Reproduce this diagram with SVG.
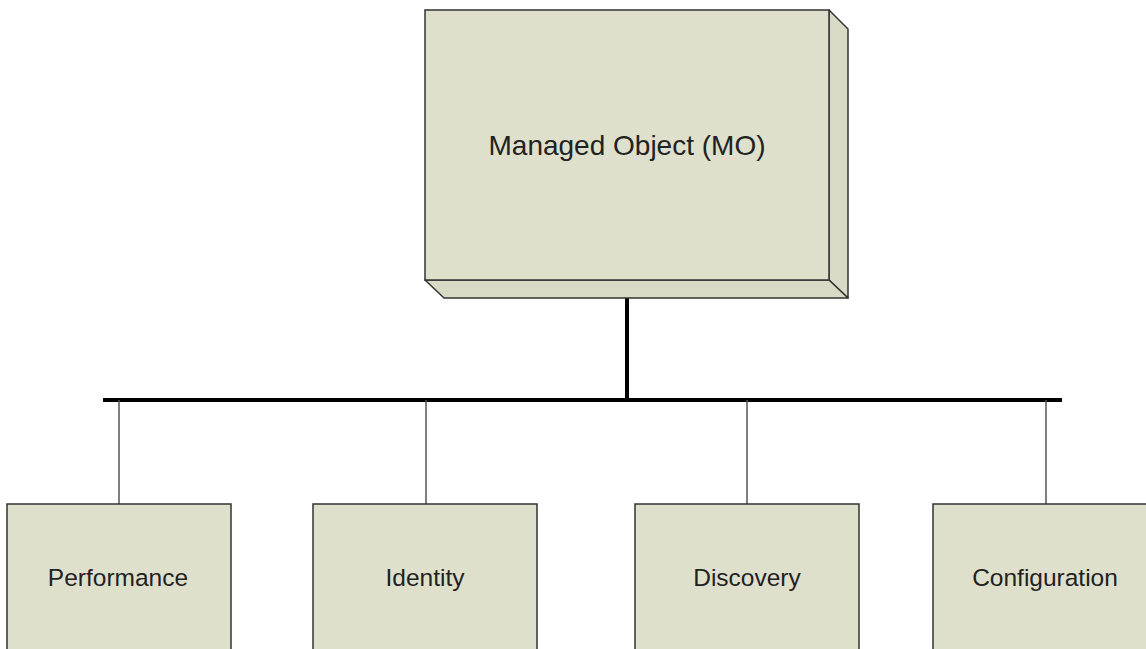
<svg xmlns="http://www.w3.org/2000/svg" width="1146" height="649" viewBox="0 0 1146 649">
<style>
.face{fill:#dfe0cc;stroke:#333;stroke-width:1.5}
.side{fill:#d9dac5;stroke:#333;stroke-width:1.5;stroke-linejoin:round}
.lbl{font-family:"Liberation Sans",Arial,sans-serif;fill:#222;text-anchor:middle}
.thin{stroke:#555;stroke-width:1.5;fill:none}
.thick{stroke:#000;stroke-width:4;fill:none}
</style>
<rect width="1146" height="649" fill="#fff"/>
<g id="connectors">
<line class="thick" x1="627" y1="280" x2="627" y2="400"/>
<line class="thick" x1="103" y1="400" x2="1062" y2="400"/>
<line class="thin" x1="119" y1="400" x2="119" y2="504"/>
<line class="thin" x1="426" y1="400" x2="426" y2="504"/>
<line class="thin" x1="747" y1="400" x2="747" y2="504"/>
<line class="thin" x1="1046" y1="400" x2="1046" y2="504"/>
</g>
<g id="mo">
<polygon class="side" points="829,10 848,29 848,298 829,280"/>
<polygon class="side" points="425,280 829,280 848,298 444,298"/>
<rect class="face" x="425" y="10" width="404" height="270"/>
<text class="lbl" x="627" y="155" font-size="28">Managed Object (MO)</text>
</g>
<g id="performance">
<rect class="face" x="7" y="504" width="224" height="160"/>
<text class="lbl" x="118" y="586" font-size="24.5">Performance</text>
</g>
<g id="identity">
<rect class="face" x="313" y="504" width="224" height="160"/>
<text class="lbl" x="425" y="586" font-size="24.5">Identity</text>
</g>
<g id="discovery">
<rect class="face" x="635" y="504" width="224" height="160"/>
<text class="lbl" x="747" y="586" font-size="24.5">Discovery</text>
</g>
<g id="configuration">
<rect class="face" x="933" y="504" width="224" height="160"/>
<text class="lbl" x="1045" y="586" font-size="24.5">Configuration</text>
</g>
</svg>
